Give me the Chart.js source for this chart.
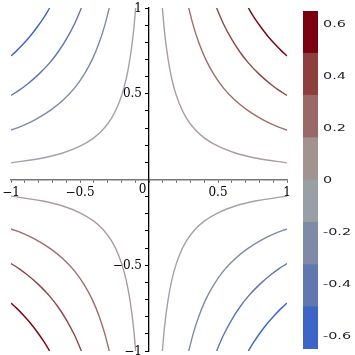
<!DOCTYPE html>
<html><head><meta charset="utf-8">
<script src="https://cdn.jsdelivr.net/npm/chart.js@4.4.1/dist/chart.umd.min.js"></script>
<style>
html,body{margin:0;padding:0;background:#fff;overflow:hidden;width:355px;height:355px}
#wrap{position:relative;width:355px;height:355px;overflow:hidden}
#main{position:absolute;left:0;top:0}
#bar{position:absolute;left:290px;top:0}
</style></head><body>
<div id="wrap"><canvas id="main" width="300" height="370"></canvas><canvas id="bar" width="65" height="355"></canvas></div>
<script>
// Contour curves read from the first quadrant (x>0, y>0); the plot is point-symmetric
const curve1 = [[0.097,1],[0.11,0.88],[0.125,0.776],[0.15,0.647],[0.18,0.539],[0.22,0.441],[0.27,0.359],[0.33,0.294],[0.4,0.243],[0.5,0.194],[0.62,0.156],[0.78,0.124],[1,0.097]];
const curve2 = [[0.288,1],[0.32,0.9],[0.36,0.8],[0.41,0.702],[0.47,0.613],[0.54,0.533],[0.62,0.465],[0.71,0.406],[0.82,0.351],[0.91,0.316],[1,0.288]];
const curve3 = [[0.49,1],[0.54,0.907],[0.6,0.817],[0.66,0.742],[0.72,0.68],[0.8,0.613],[0.88,0.557],[0.94,0.521],[1,0.49]];
const curve4 = [[0.72,1],[0.76,0.947],[0.81,0.889],[0.86,0.837],[0.91,0.791],[0.96,0.75],[1,0.72]];
const curves = [curve1, curve2, curve3, curve4];
const posColors = ['#ab9b9e','#9f6d6b','#8f4543','#7a0012'];
const negColors = ['#a0a3ad','#7e8aa8','#5d76b2','#3c64c8'];

const axisTickVals = [-1,-0.5,0.5,1];
const axisTickLabels = ['\u22121','\u22120.5','0.5','1'];
const minorStep = 0.1;

const cbEdges = [-0.65,-0.4875,-0.325,-0.1625,0,0.1625,0.325,0.4875,0.65];
const cbColors = ['#3d65c8','#5f78b0','#7f8ba6','#9a9ea5','#a29391','#9a6866','#8c3f3d','#78000f'];
const cbTickVals = [0.6,0.4,0.2,0,-0.2,-0.4,-0.6];
const cbTickLabels = ['0.6','0.4','0.2','0','-0.2','-0.4','-0.6'];

function toPts(c, sx, sy){
  return c.map(p => ({x: p[0]*sx, y: p[1]*sy})).sort((a,b)=>a.x-b.x);
}
const datasets = [];
curves.forEach((c,i) => {
  [[1,1,posColors[i]],[-1,-1,posColors[i]],[-1,1,negColors[i]],[1,-1,negColors[i]]].forEach(q => {
    datasets.push({data: toPts(c,q[0],q[1]), borderColor: q[2], borderWidth: 1.4, pointRadius: 0,
      showLine: true, fill: false, cubicInterpolationMode: 'monotone'});
  });
});

function buildTicks(scale){
  const t = [];
  const n = Math.round((scale.max - scale.min)/minorStep);
  for (let i=0;i<=n;i++) t.push({value: +(scale.min + i*minorStep).toFixed(6)});
  scale.ticks = t;
}

const axisLabels = {
  id: 'axisLabels',
  afterDraw(chart){
    const ctx = chart.ctx, xs = chart.scales.x, ys = chart.scales.y;
    const ox = xs.getPixelForValue(0), oy = ys.getPixelForValue(0);
    ctx.save();
    ctx.font = '12px "DejaVu Serif"';
    ctx.fillStyle = '#000';
    ctx.textBaseline = 'middle';
    ctx.textAlign = 'center';
    axisTickVals.forEach((v,i) => ctx.fillText(axisTickLabels[i], xs.getPixelForValue(v), oy + 13));
    ctx.textAlign = 'right';
    axisTickVals.forEach((v,i) => ctx.fillText(axisTickLabels[i], ox - 7, ys.getPixelForValue(v) + 0.5));
    ctx.textAlign = 'center';
    ctx.fillText('0', ox - 6.5, oy + 10.5);
    ctx.restore();
  }
};

new Chart(document.getElementById('main'), {
  type: 'scatter',
  data: {datasets},
  options: {
    responsive: false, animation: false, devicePixelRatio: 1,
    layout: {padding: {left: 11, right: 13, top: 8, bottom: 19}},
    plugins: {legend: {display: false}, tooltip: {enabled: false}},
    scales: {
      x: {type: 'linear', min: -1, max: 1, position: {y: 0},
        afterBuildTicks: buildTicks,
        grid: {drawOnChartArea: false, drawTicks: true, tickLength: 2, color: '#555', lineWidth: 1},
        border: {color: '#777', width: 1.6},
        ticks: {display: false, autoSkip: false, maxRotation: 0, minRotation: 0}
      },
      y: {type: 'linear', min: -1, max: 1, position: {x: 0},
        afterBuildTicks: buildTicks,
        grid: {drawOnChartArea: false, drawTicks: true, tickLength: 3, color: '#000', lineWidth: 1},
        border: {color: '#000', width: 1.3},
        ticks: {display: false, autoSkip: false}
      }
    }
  },
  plugins: [axisLabels]
});

const cbLabelsPlugin = {
  id: 'cbLabels',
  afterDraw(chart){
    const ctx = chart.ctx, ys = chart.scales.y;
    ctx.save();
    ctx.font = '9px "DejaVu Sans"';
    ctx.fillStyle = '#1e1e2c';
    ctx.textAlign = 'left'; ctx.textBaseline = 'middle';
    const x0 = chart.chartArea.right + 5;
    cbTickVals.forEach((v,i) => {
      const y = ys.getPixelForValue(v) + 1;
      ctx.save();
      ctx.translate(x0, y);
      ctx.scale(1.6, 1);
      ctx.fillText(cbTickLabels[i], 0, 0);
      ctx.restore();
    });
    ctx.restore();
  }
};

new Chart(document.getElementById('bar'), {
  type: 'bar',
  data: {
    labels: ['c'],
    datasets: cbColors.map((c,i) => ({data: [[cbEdges[i], cbEdges[i+1]]], backgroundColor: c, borderWidth: 0,
      barPercentage: 1, categoryPercentage: 1, grouped: false}))
  },
  options: {
    responsive: false, animation: false, devicePixelRatio: 1,
    layout: {padding: {left: 13, right: 37, top: 11, bottom: 6}},
    plugins: {legend: {display: false}, tooltip: {enabled: false}},
    scales: {
      x: {display: false},
      y: {display: false, min: cbEdges[0], max: cbEdges[cbEdges.length-1]}
    }
  },
  plugins: [cbLabelsPlugin]
});
</script>
</body></html>
